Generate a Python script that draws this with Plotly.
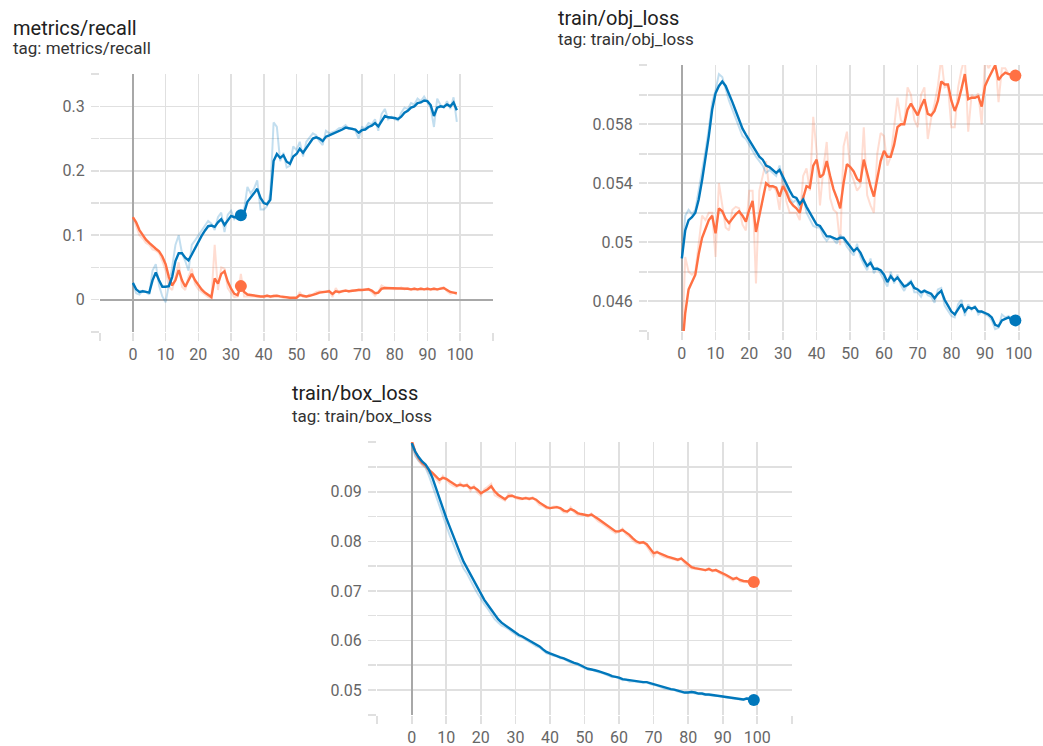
import plotly.graph_objects as go

# ---------------- data ----------------
recall_blue_smooth = [
    0.026, 0.016, 0.012, 0.013, 0.012, 0.011, 0.030, 0.042, 0.030, 0.020,
    0.020, 0.021, 0.035, 0.060, 0.072, 0.072, 0.065, 0.061, 0.070, 0.080,
    0.090, 0.099, 0.107, 0.114, 0.115, 0.113, 0.120, 0.125, 0.116, 0.124,
    0.130, 0.128, 0.128, 0.131, 0.135, 0.152, 0.158, 0.165, 0.172, 0.158,
    0.150, 0.148, 0.155, 0.215, 0.226, 0.220, 0.224, 0.214, 0.211, 0.222,
    0.226, 0.234, 0.228, 0.235, 0.243, 0.250, 0.252, 0.250, 0.246, 0.253,
    0.255, 0.257, 0.259, 0.262, 0.264, 0.267, 0.266, 0.266, 0.264, 0.259,
    0.263, 0.264, 0.268, 0.270, 0.274, 0.269, 0.277, 0.285, 0.283, 0.283,
    0.282, 0.280, 0.284, 0.290, 0.293, 0.298, 0.300, 0.305, 0.306, 0.309,
    0.308, 0.302, 0.285, 0.298, 0.300, 0.299, 0.303, 0.300, 0.306, 0.294]
recall_blue_raw = [
    0.026, 0.010, 0.008, 0.014, 0.012, 0.008, 0.045, 0.055, 0.022, 0.005,
    -0.004, 0.022, 0.050, 0.085, 0.100, 0.072, 0.060, 0.045, 0.085, 0.092,
    0.100, 0.108, 0.115, 0.122, 0.118, 0.108, 0.128, 0.135, 0.105, 0.132,
    0.138, 0.125, 0.130, 0.135, 0.140, 0.175, 0.165, 0.172, 0.185, 0.140,
    0.140, 0.145, 0.165, 0.275, 0.268, 0.215, 0.228, 0.205, 0.208, 0.238,
    0.232, 0.245, 0.222, 0.245, 0.252, 0.258, 0.255, 0.246, 0.240, 0.262,
    0.258, 0.260, 0.262, 0.266, 0.267, 0.271, 0.265, 0.266, 0.262, 0.250,
    0.268, 0.266, 0.274, 0.272, 0.280, 0.262, 0.288, 0.296, 0.280, 0.284,
    0.280, 0.278, 0.290, 0.298, 0.296, 0.305, 0.303, 0.312, 0.308, 0.315,
    0.306, 0.298, 0.268, 0.312, 0.302, 0.298, 0.308, 0.296, 0.314, 0.276]
recall_orange_smooth = [
    0.128, 0.120, 0.108, 0.100, 0.093, 0.088, 0.083, 0.079, 0.075, 0.067,
    0.055, 0.035, 0.022, 0.030, 0.046, 0.030, 0.020, 0.030, 0.040, 0.030,
    0.022, 0.016, 0.011, 0.007, 0.004, 0.033, 0.025, 0.040, 0.044, 0.028,
    0.017, 0.009, 0.007, 0.021, 0.012, 0.008, 0.007, 0.006, 0.005, 0.005,
    0.005, 0.006, 0.005, 0.006, 0.006, 0.005, 0.004, 0.004, 0.003, 0.003,
    0.003, 0.007, 0.006, 0.005, 0.006, 0.007, 0.009, 0.011, 0.012, 0.012,
    0.013, 0.009, 0.013, 0.012, 0.013, 0.014, 0.013, 0.014, 0.014, 0.015,
    0.015, 0.015, 0.016, 0.014, 0.010, 0.011, 0.017, 0.018, 0.018, 0.018,
    0.017, 0.017, 0.018, 0.017, 0.017, 0.016, 0.017, 0.016, 0.017, 0.016,
    0.017, 0.016, 0.017, 0.016, 0.017, 0.018, 0.015, 0.012, 0.011, 0.010]
recall_orange_raw = [
    0.128, 0.115, 0.100, 0.095, 0.088, 0.085, 0.078, 0.076, 0.072, 0.060,
    0.045, 0.020, 0.015, 0.036, 0.058, 0.020, 0.015, 0.036, 0.048, 0.024,
    0.016, 0.012, 0.008, 0.004, 0.002, 0.085, 0.015, 0.050, 0.048, 0.018,
    0.010, 0.004, 0.005, 0.040, 0.005, 0.005, 0.006, 0.005, 0.004, 0.005,
    0.004, 0.007, 0.004, 0.007, 0.006, 0.004, 0.003, 0.004, 0.002, 0.003,
    0.002, 0.012, 0.004, 0.004, 0.008, 0.008, 0.012, 0.013, 0.012, 0.012,
    0.014, 0.004, 0.018, 0.010, 0.014, 0.015, 0.012, 0.015, 0.014, 0.016,
    0.015, 0.015, 0.017, 0.012, 0.006, 0.012, 0.022, 0.019, 0.018, 0.018,
    0.016, 0.017, 0.019, 0.016, 0.018, 0.015, 0.018, 0.015, 0.018, 0.016,
    0.018, 0.015, 0.018, 0.015, 0.018, 0.019, 0.013, 0.009, 0.011, 0.008]

obj_blue_smooth = [
    0.0489, 0.0508, 0.0515, 0.0517, 0.0520, 0.0529, 0.0542, 0.0556, 0.0572, 0.0590,
    0.0601, 0.0606, 0.0609, 0.0606, 0.0601, 0.0595, 0.0589, 0.0583, 0.0577, 0.0573,
    0.0569, 0.0565, 0.0561, 0.0558, 0.0556, 0.0552, 0.0551, 0.0549, 0.0547, 0.0549,
    0.0544, 0.0540, 0.0535, 0.0531, 0.0530, 0.0526, 0.0529, 0.0524, 0.0520, 0.0515,
    0.0512, 0.0511, 0.0507, 0.0504, 0.0504, 0.0503, 0.0502, 0.0503, 0.0503, 0.0500,
    0.0497, 0.0494, 0.0496, 0.0493, 0.0488, 0.0484, 0.0486, 0.0482, 0.0482, 0.0481,
    0.0478, 0.0473, 0.0477, 0.0474, 0.0476, 0.0473, 0.0470, 0.0471, 0.0473, 0.0469,
    0.0468, 0.0466, 0.0467, 0.0466, 0.0465, 0.0462, 0.0465, 0.0467, 0.0461, 0.0457,
    0.0453, 0.0451, 0.0455, 0.0458, 0.0453, 0.0456, 0.0455, 0.0456, 0.0453, 0.0453,
    0.0452, 0.0451, 0.0449, 0.0444, 0.0443, 0.0447, 0.0448, 0.0449, 0.0447, 0.0447]
obj_blue_raw = [
    0.0489, 0.0518, 0.0522, 0.0519, 0.0522, 0.0535, 0.0548, 0.0562, 0.0577, 0.0595,
    0.0603, 0.0614, 0.0612, 0.0603, 0.0596, 0.0590, 0.0584, 0.0578, 0.0572, 0.0570,
    0.0566, 0.0561, 0.0558, 0.0555, 0.0552, 0.0547, 0.0549, 0.0547, 0.0545, 0.0552,
    0.0540, 0.0536, 0.0530, 0.0527, 0.0529, 0.0522, 0.0532, 0.0520, 0.0516, 0.0511,
    0.0510, 0.0510, 0.0504, 0.0501, 0.0504, 0.0502, 0.0499, 0.0505, 0.0502, 0.0497,
    0.0494, 0.0491, 0.0499, 0.0490, 0.0485, 0.0481, 0.0489, 0.0479, 0.0483, 0.0479,
    0.0475, 0.0470, 0.0480, 0.0472, 0.0478, 0.0471, 0.0467, 0.0472, 0.0474, 0.0466,
    0.0466, 0.0463, 0.0468, 0.0464, 0.0463, 0.0459, 0.0468, 0.0469, 0.0457, 0.0453,
    0.0450, 0.0449, 0.0458, 0.0461, 0.0450, 0.0458, 0.0454, 0.0457, 0.0451, 0.0453,
    0.0451, 0.0450, 0.0447, 0.0441, 0.0442, 0.0451, 0.0449, 0.0450, 0.0446, 0.0447]
obj_orange_smooth = [
    0.0425, 0.0452, 0.0468, 0.0473, 0.0478, 0.0492, 0.0503, 0.0509, 0.0515, 0.0518,
    0.0506, 0.0523, 0.0521, 0.0516, 0.0513, 0.0516, 0.0519, 0.0521, 0.0518, 0.0514,
    0.0522, 0.0528, 0.0507, 0.0518, 0.0530, 0.0540, 0.0538, 0.0538, 0.0537, 0.0531,
    0.0538, 0.0534, 0.0528, 0.0525, 0.0523, 0.0520, 0.0530, 0.0538, 0.0537, 0.0552,
    0.0556, 0.0544, 0.0546, 0.0555, 0.0545, 0.0536, 0.0530, 0.0523, 0.0540, 0.0553,
    0.0551, 0.0548, 0.0543, 0.0541, 0.0556, 0.0546, 0.0538, 0.0531, 0.0542, 0.0555,
    0.0562, 0.0558, 0.0558, 0.0566, 0.0578, 0.0580, 0.0580, 0.0590, 0.0594, 0.0590,
    0.0586, 0.0592, 0.0597, 0.0587, 0.0586, 0.0589, 0.0596, 0.0609, 0.0607, 0.0607,
    0.0596, 0.0589, 0.0595, 0.0604, 0.0614, 0.0597, 0.0598, 0.0598, 0.0599, 0.0592,
    0.0606, 0.0611, 0.0616, 0.0620, 0.0610, 0.0613, 0.0615, 0.0614, 0.0614, 0.0613]
obj_orange_raw = [
    0.0425, 0.0490, 0.0480, 0.0478, 0.0480, 0.0500, 0.0518, 0.0515, 0.0520, 0.0520,
    0.0490, 0.0540, 0.0525, 0.0510, 0.0508, 0.0522, 0.0524, 0.0523, 0.0512, 0.0508,
    0.0535, 0.0535, 0.0472, 0.0535, 0.0545, 0.0555, 0.0535, 0.0538, 0.0535, 0.0522,
    0.0548, 0.0528, 0.0520, 0.0520, 0.0520, 0.0515, 0.0545, 0.0550, 0.0535, 0.0585,
    0.0562, 0.0525, 0.0550, 0.0568, 0.0530, 0.0522, 0.0520, 0.0498, 0.0565, 0.0575,
    0.0548, 0.0542, 0.0535, 0.0538, 0.0578, 0.0532, 0.0525, 0.0520, 0.0560, 0.0574,
    0.0572, 0.0552, 0.0558, 0.0578, 0.0598, 0.0583, 0.0580, 0.0605, 0.0600, 0.0583,
    0.0578, 0.0600, 0.0605, 0.0570, 0.0584, 0.0594, 0.0606, 0.0625, 0.0605, 0.0606,
    0.0578, 0.0578, 0.0605, 0.0617, 0.0625, 0.0575, 0.0600, 0.0598, 0.0601, 0.0580,
    0.0625, 0.0618, 0.0622, 0.0626, 0.0595, 0.0618, 0.0618, 0.0614, 0.0614, 0.0612]

box_blue_smooth = [
    0.0998, 0.0981, 0.0970, 0.0961, 0.0955, 0.0944, 0.0928, 0.0907, 0.0887, 0.0867,
    0.0847, 0.0829, 0.0810, 0.0793, 0.0776, 0.0759, 0.0746, 0.0732, 0.0719, 0.0705,
    0.0692, 0.0682, 0.0672, 0.0662, 0.0652, 0.0643, 0.0636, 0.0631, 0.0627, 0.0621,
    0.0616, 0.0611, 0.0608, 0.0604, 0.0600, 0.0596, 0.0591, 0.0588, 0.0582, 0.0577,
    0.0574, 0.0571, 0.0569, 0.0566, 0.0564, 0.0561, 0.0557, 0.0555, 0.0553, 0.0549,
    0.0546, 0.0543, 0.0542, 0.0540, 0.0538, 0.0536, 0.0534, 0.0531, 0.0528, 0.0527,
    0.0525, 0.0522, 0.0521, 0.0519, 0.0518, 0.0518, 0.0517, 0.0516, 0.0516, 0.0514,
    0.0512, 0.0510, 0.0508, 0.0505, 0.0503, 0.0502, 0.0501, 0.0499, 0.0497, 0.0495,
    0.0495, 0.0496, 0.0495, 0.0493, 0.0493, 0.0491, 0.0491, 0.0490, 0.0489, 0.0489,
    0.0487, 0.0486, 0.0485, 0.0484, 0.0483, 0.0482, 0.0481, 0.0483, 0.0481, 0.0480]
box_blue_raw = [
    0.0995, 0.0972, 0.0963, 0.0955, 0.0948, 0.0932, 0.0912, 0.0890, 0.0870, 0.0850,
    0.0830, 0.0812, 0.0795, 0.0778, 0.0762, 0.0745, 0.0735, 0.0720, 0.0708, 0.0695,
    0.0683, 0.0673, 0.0664, 0.0653, 0.0643, 0.0636, 0.0630, 0.0627, 0.0623, 0.0617,
    0.0612, 0.0608, 0.0606, 0.0601, 0.0597, 0.0593, 0.0588, 0.0586, 0.0579, 0.0574,
    0.0572, 0.0569, 0.0568, 0.0564, 0.0563, 0.0559, 0.0555, 0.0554, 0.0551, 0.0547,
    0.0544, 0.0541, 0.0542, 0.0539, 0.0536, 0.0535, 0.0532, 0.0529, 0.0526, 0.0527,
    0.0523, 0.0520, 0.0521, 0.0517, 0.0518, 0.0517, 0.0516, 0.0515, 0.0516, 0.0512,
    0.0510, 0.0509, 0.0506, 0.0503, 0.0502, 0.0501, 0.0500, 0.0497, 0.0496, 0.0494,
    0.0495, 0.0497, 0.0493, 0.0492, 0.0492, 0.0490, 0.0490, 0.0489, 0.0488, 0.0488,
    0.0486, 0.0485, 0.0484, 0.0483, 0.0482, 0.0481, 0.0480, 0.0484, 0.0480, 0.0479]
box_orange_smooth = [
    0.1003, 0.0981, 0.0968, 0.0958, 0.0953, 0.0944, 0.0938, 0.0931, 0.0924, 0.0928,
    0.0926, 0.0921, 0.0916, 0.0912, 0.0914, 0.0912, 0.0913, 0.0907, 0.0909, 0.0904,
    0.0897, 0.0901, 0.0905, 0.0911, 0.0901, 0.0894, 0.0889, 0.0885, 0.0891, 0.0892,
    0.0889, 0.0887, 0.0886, 0.0887, 0.0886, 0.0887, 0.0884, 0.0878, 0.0874, 0.0869,
    0.0867, 0.0868, 0.0869, 0.0867, 0.0862, 0.0860, 0.0865, 0.0862, 0.0857, 0.0855,
    0.0854, 0.0852, 0.0854, 0.0850, 0.0845, 0.0840, 0.0835, 0.0830, 0.0825, 0.0820,
    0.0820, 0.0823, 0.0818, 0.0813, 0.0806, 0.0800, 0.0797, 0.0798, 0.0794, 0.0786,
    0.0776, 0.0778, 0.0775, 0.0771, 0.0769, 0.0767, 0.0765, 0.0763, 0.0765, 0.0759,
    0.0753, 0.0748, 0.0746, 0.0745, 0.0744, 0.0742, 0.0744, 0.0741, 0.0742, 0.0739,
    0.0736, 0.0732, 0.0728, 0.0724, 0.0726, 0.0722, 0.0720, 0.0719, 0.0718, 0.0718]
box_orange_raw = [
    0.1000, 0.0975, 0.0962, 0.0954, 0.0950, 0.0938, 0.0934, 0.0926, 0.0918, 0.0932,
    0.0924, 0.0916, 0.0912, 0.0909, 0.0918, 0.0910, 0.0916, 0.0902, 0.0912, 0.0898,
    0.0892, 0.0905, 0.0910, 0.0916, 0.0893, 0.0889, 0.0885, 0.0882, 0.0896, 0.0893,
    0.0887, 0.0885, 0.0885, 0.0889, 0.0884, 0.0889, 0.0881, 0.0873, 0.0871, 0.0866,
    0.0866, 0.0870, 0.0870, 0.0865, 0.0858, 0.0858, 0.0869, 0.0859, 0.0853, 0.0853,
    0.0853, 0.0850, 0.0856, 0.0847, 0.0840, 0.0836, 0.0831, 0.0826, 0.0821, 0.0816,
    0.0820, 0.0826, 0.0814, 0.0809, 0.0801, 0.0796, 0.0795, 0.0799, 0.0790, 0.0780,
    0.0769, 0.0780, 0.0772, 0.0768, 0.0767, 0.0765, 0.0763, 0.0761, 0.0767, 0.0755,
    0.0749, 0.0745, 0.0744, 0.0744, 0.0743, 0.0741, 0.0746, 0.0739, 0.0743, 0.0736,
    0.0733, 0.0729, 0.0725, 0.0721, 0.0728, 0.0719, 0.0718, 0.0717, 0.0717, 0.0717]

x_tick_vals = [-10, 0, 10, 20, 30, 40, 50, 60, 70, 80, 90, 100, 110]
x_tick_text = ["", "0", "10", "20", "30", "40", "50", "60", "70", "80", "90", "100", ""]

recall_tick_vals = [-0.05, 0, 0.05, 0.1, 0.15, 0.2, 0.25, 0.3, 0.35]
recall_tick_text = ["", "0", "", "0.1", "", "0.2", "", "0.3", ""]
obj_tick_vals = [0.044, 0.046, 0.048, 0.05, 0.052, 0.054, 0.056, 0.058, 0.06, 0.062]
obj_tick_text = ["", "0.046", "", "0.05", "", "0.054", "", "0.058", "", ""]
box_tick_vals = [0.045, 0.05, 0.055, 0.06, 0.065, 0.07, 0.075, 0.08, 0.085, 0.09, 0.095, 0.1]
box_tick_text = ["", "0.05", "", "0.06", "", "0.07", "", "0.08", "", "0.09", "", ""]

titles = ["metrics/recall", "train/obj_loss", "train/box_loss"]

# ---------------- figure ----------------
W, H = 1043, 746
BLUE = "#0077bb"
ORANGE = "#ff7043"
BLUE_RAW = "rgba(0,119,187,0.24)"
ORANGE_RAW = "rgba(255,112,67,0.24)"
GRID = "#e0e0e0"
ZERO = "#a8a8a8"
FONT = "Roboto"

fig = go.Figure()


def panel(n, blue_raw, blue_s, orange_raw, orange_s, hover_idx):
    xa = "x" if n == 1 else "x%d" % n
    ya = "y" if n == 1 else "y%d" % n
    for raw, col in ((orange_raw, ORANGE_RAW), (blue_raw, BLUE_RAW)):
        fig.add_trace(go.Scatter(x=list(range(len(raw))), y=raw, mode="lines",
                                 line=dict(color=col, width=2), xaxis=xa, yaxis=ya,
                                 hoverinfo="skip"))
    for sm, col in ((orange_s, ORANGE), (blue_s, BLUE)):
        fig.add_trace(go.Scatter(x=list(range(len(sm))), y=sm, mode="lines",
                                 line=dict(color=col, width=2.4), xaxis=xa, yaxis=ya))
    for sm, col in ((orange_s, ORANGE), (blue_s, BLUE)):
        i = hover_idx if hover_idx is not None else len(sm) - 1
        fig.add_trace(go.Scatter(x=[i], y=[sm[i]], mode="markers",
                                 marker=dict(color=col, size=12), xaxis=xa, yaxis=ya))


panel(1, recall_blue_raw, recall_blue_smooth, recall_orange_raw, recall_orange_smooth, 33)
panel(2, obj_blue_raw, obj_blue_smooth, obj_orange_raw, obj_orange_smooth, None)
panel(3, box_blue_raw, box_blue_smooth, box_orange_raw, box_orange_smooth, None)


def px_x(p):
    return p / W


def px_y(p):
    return 1 - p / H


common_axis = dict(showgrid=True, gridcolor=GRID, gridwidth=1.6,
                   zeroline=True, zerolinecolor=ZERO, zerolinewidth=2,
                   ticks="outside", ticklen=8, tickcolor=GRID, tickwidth=1.6,
                   showline=False, tickfont=dict(family=FONT, size=16, color="#666666"),
                   fixedrange=True, tickmode="array", automargin=False)

fig.update_layout(
    width=W, height=H, margin=dict(l=0, r=0, t=0, b=0, pad=0, autoexpand=False),
    paper_bgcolor="white", plot_bgcolor="white", showlegend=False,
    hovermode=False,
    xaxis=dict(common_axis, domain=[px_x(100), px_x(493)], range=[-10.05, 110.05],
               tickvals=x_tick_vals, ticktext=x_tick_text, anchor="y", ticklabelstandoff=0),
    yaxis=dict(common_axis, domain=[px_y(332), px_y(74)], range=[-0.0502, 0.3502],
               tickvals=recall_tick_vals, ticktext=recall_tick_text, anchor="x", ticklabelstandoff=3),
    xaxis2=dict(common_axis, domain=[px_x(648), 1.0], range=[-10.05, 107.2],
                tickvals=x_tick_vals, ticktext=x_tick_text, anchor="y2", ticklabelstandoff=0),
    yaxis2=dict(common_axis, domain=[px_y(331), px_y(65)], range=[0.04398, 0.06202],
                tickvals=obj_tick_vals, ticktext=obj_tick_text, anchor="x2", ticklabelstandoff=3),
    xaxis3=dict(common_axis, domain=[px_x(377), px_x(792)], range=[-10.05, 110.05],
                tickvals=x_tick_vals, ticktext=x_tick_text, anchor="y3", ticklabelstandoff=0),
    yaxis3=dict(common_axis, domain=[px_y(715), px_y(442)], range=[0.04497, 0.10003],
                tickvals=box_tick_vals, ticktext=box_tick_text, anchor="x3", ticklabelstandoff=3),
)

title_pos = [(11, 28, 48), (556, 18, 39), (290, 393, 416)]
for t, (tx, ty, sy) in zip(titles, title_pos):
    fig.add_annotation(text=t, xref="paper", yref="paper", x=px_x(tx), y=px_y(ty),
                       xanchor="left", yanchor="middle", showarrow=False,
                       font=dict(family=FONT, size=20, color="#212121"))
    fig.add_annotation(text="tag: " + t, xref="paper", yref="paper", x=px_x(tx), y=px_y(sy),
                       xanchor="left", yanchor="middle", showarrow=False,
                       font=dict(family=FONT, size=17, color="#333333"))

fig.write_html("out.html", config={"displayModeBar": False, "staticPlot": True},
               post_script="document.body.style.margin='0px';document.body.style.overflow='hidden';")
